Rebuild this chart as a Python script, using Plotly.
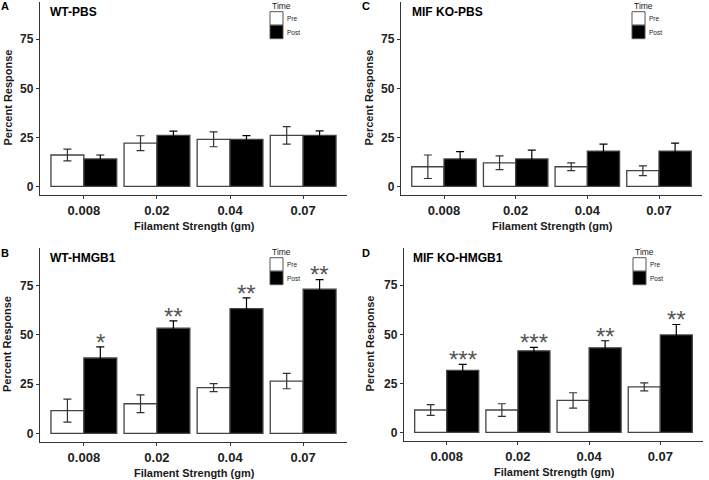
import plotly.graph_objects as go

W, H = 709, 480

categories = ["0.008", "0.02", "0.04", "0.07"]

# Panel A: WT-PBS
a_pre = [16, 22, 24, 26]
a_pre_err = [3, 3.8, 3.8, 4.5]
a_post = [14, 26, 24, 26]
a_post_err = [2, 2.2, 1.9, 2.3]
a_stars = ["", "", "", ""]

# Panel B: WT-HMGB1
b_pre = [11.5, 15, 23.2, 26.5]
b_pre_err = [5.8, 4.5, 2, 3.9]
b_post = [38.2, 53.3, 63.3, 73.1]
b_post_err = [5.6, 3.7, 5.4, 4.9]
b_stars = ["*", "**", "**", "**"]

# Panel C: MIF KO-PBS
c_pre = [10, 12, 10, 8]
c_pre_err = [6, 3.5, 2, 2.5]
c_post = [14, 14, 18, 18]
c_post_err = [3.7, 4.5, 3.5, 4]
c_stars = ["", "", "", ""]

# Panel D: MIF KO-HMGB1
d_pre = [11.4, 11.4, 16.3, 23.2]
d_pre_err = [2.7, 3.2, 3.9, 2]
d_post = [31.6, 41.6, 43.1, 49.7]
d_post_err = [3.1, 1.7, 3.6, 5.3]
d_stars = ["***", "***", "**", "**"]

y_ticks = [0, 25, 50, 75]
legend_title = "Time"
series_names = ["Pre", "Post"]

FONT = "Liberation Sans, Arial, sans-serif"
AX = "#333333"


def px_x(p):
    return p / W


def px_y(p):
    return 1 - p / H


panels = [
    dict(letter="A", title="WT-PBS", pre=a_pre, pre_err=a_pre_err, post=a_post, post_err=a_post_err,
         stars=a_stars, xd=(40, 347), yd=(2, 195), lx=4.5, ly=6, tx=48, ylx=7, legx=270),
    dict(letter="B", title="WT-HMGB1", pre=b_pre, pre_err=b_pre_err, post=b_post, post_err=b_post_err,
         stars=b_stars, xd=(40, 347), yd=(248, 442), lx=4.5, ly=253, tx=48, ylx=7, legx=270),
    dict(letter="C", title="MIF KO-PBS", pre=c_pre, pre_err=c_pre_err, post=c_post, post_err=c_post_err,
         stars=c_stars, xd=(401, 702), yd=(2, 195), lx=366, ly=6, tx=410, ylx=368, legx=632),
    dict(letter="D", title="MIF KO-HMGB1", pre=d_pre, pre_err=d_pre_err, post=d_post, post_err=d_post_err,
         stars=d_stars, xd=(404, 703), yd=(248, 441), lx=366, ly=253, tx=411, ylx=369, legx=633),
]

fig = go.Figure()
annotations = []
shapes = []
layout_axes = {}

for i, p in enumerate(panels, start=1):
    xa = "x" if i == 1 else f"x{i}"
    ya = "y" if i == 1 else f"y{i}"
    xkey = "xaxis" if i == 1 else f"xaxis{i}"
    ykey = "yaxis" if i == 1 else f"yaxis{i}"

    fig.add_trace(go.Bar(
        x=categories, y=p["pre"], name=series_names[0], xaxis=xa, yaxis=ya,
        marker=dict(color="white", line=dict(color="#444444", width=1.3)),
        error_y=dict(type="data", array=p["pre_err"], visible=True, color="#333333", thickness=1.2, width=4),
        showlegend=False, offsetgroup="pre",
    ))
    fig.add_trace(go.Bar(
        x=categories, y=p["post"], name=series_names[1], xaxis=xa, yaxis=ya,
        marker=dict(color="black", line=dict(color="#444444", width=1.3)),
        error_y=dict(type="data", array=p["post_err"], visible=True, color="black", thickness=1.2, width=4),
        showlegend=False, offsetgroup="post",
    ))

    layout_axes[xkey] = dict(
        domain=[px_x(p["xd"][0]), px_x(p["xd"][1])], anchor=ya, type="category",
        categoryorder="array", categoryarray=categories, range=[-0.6, 3.6],
        showline=True, linecolor=AX, linewidth=1.3, ticks="outside", ticklen=3, tickwidth=1,
        tickcolor=AX, showgrid=False, zeroline=False, fixedrange=True,
        tickfont=dict(family=FONT, size=13, color="#222222", weight="bold"),
    )
    layout_axes[ykey] = dict(
        domain=[px_y(p["yd"][1]), px_y(p["yd"][0])], anchor=xa, range=[-4.4, 94],
        tickvals=y_ticks, showline=True, linecolor=AX, linewidth=1.3, ticks="outside",
        ticklen=3, tickwidth=1, tickcolor=AX, showgrid=False, zeroline=False, fixedrange=True,
        tickfont=dict(family=FONT, size=12, color="#222222", weight="bold"),
    )

    annotations.append(dict(text=p["letter"], x=px_x(p["lx"]), y=px_y(p["ly"]), xref="paper", yref="paper",
                            xanchor="center", yanchor="middle", showarrow=False,
                            font=dict(family=FONT, size=11, color="black", weight="bold")))
    annotations.append(dict(text=p["title"], x=px_x(p["tx"]), y=px_y(p["yd"][0] + 10), xref="paper", yref="paper",
                            xanchor="left", yanchor="middle", showarrow=False,
                            font=dict(family=FONT, size=12, color="black", weight="bold")))
    annotations.append(dict(text="Percent Response", x=px_x(p["ylx"]),
                            y=px_y((p["yd"][0] + p["yd"][1]) / 2 - 1), xref="paper", yref="paper",
                            xanchor="center", yanchor="middle", textangle=-90, showarrow=False,
                            font=dict(family=FONT, size=11, color="#1a1a1a", weight="bold")))
    annotations.append(dict(text="Filament Strength (gm)", x=px_x((p["xd"][0] + p["xd"][1]) / 2 + 1),
                            y=px_y(p["yd"][1] + 31), xref="paper", yref="paper",
                            xanchor="center", yanchor="middle", showarrow=False,
                            font=dict(family=FONT, size=11, color="#1a1a1a", weight="bold")))
    for k, s in enumerate(p["stars"]):
        if s:
            annotations.append(dict(text=s, x=k + 0.225, y=p["post"][k] + p["post_err"][k] + 6,
                                    xref=xa, yref=ya, xanchor="center", yanchor="middle",
                                    yshift=-7, showarrow=False,
                                    font=dict(family=FONT, size=24, color="#555555")))
    lx0 = p["legx"]
    ty = p["yd"][0]
    annotations.append(dict(text=legend_title, x=px_x(lx0 - 0.5), y=px_y(ty + 3.8), xref="paper", yref="paper",
                            xanchor="left", yanchor="middle", showarrow=False,
                            font=dict(family=FONT, size=8.5, color="#1a1a1a")))
    for j, (nm, col) in enumerate(zip(series_names, ["white", "black"])):
        y0 = ty + 9.7 + j * 13.5
        shapes.append(dict(type="rect", xref="paper", yref="paper",
                           x0=px_x(lx0), x1=px_x(lx0 + 13), y0=px_y(y0), y1=px_y(y0 + 13.5),
                           fillcolor=col, line=dict(color="#555555", width=1)))
        annotations.append(dict(text=nm, x=px_x(lx0 + 15), y=px_y(y0 + 7), xref="paper", yref="paper",
                                xanchor="left", yanchor="middle", showarrow=False,
                                font=dict(family=FONT, size=6.5, color="#1a1a1a")))

fig.update_layout(
    width=W, height=H, margin=dict(l=0, r=0, t=0, b=0),
    paper_bgcolor="white", plot_bgcolor="white",
    barmode="group", bargap=0.1, bargroupgap=0,
    annotations=annotations, shapes=shapes, showlegend=False,
    font=dict(family=FONT),
    **layout_axes,
)

fig.write_html("out.html", config={"displayModeBar": False},
               post_script="document.body.style.margin='0';document.body.style.overflow='hidden';")
